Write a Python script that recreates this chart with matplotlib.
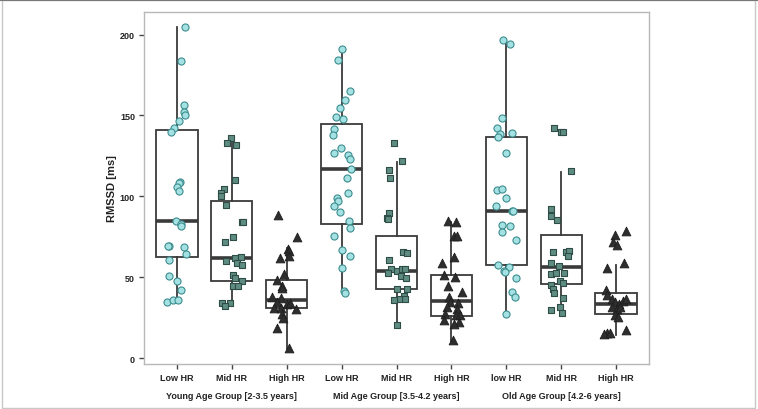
import matplotlib
matplotlib.use("Agg")
import matplotlib.pyplot as plt
from matplotlib.patches import Rectangle
from matplotlib.lines import Line2D

plt.rcParams['font.family'] = ['Liberation Sans', 'DejaVu Sans']

categories = ["Low HR", "Mid HR", "High HR", "Low HR", "Mid HR", "High HR", "low HR", "Mid HR", "High HR"]
group_labels = ["Young Age Group [2-3.5 years]", "Mid Age Group [3.5-4.2 years]", "Old Age Group [4.2-6 years]"]
yticks = [0, 50, 100, 150, 200]

# box statistics: (whislo, q1, med, q3, whishi)
box_stats = [
    (34.6, 62.5, 84.7, 141.0, 205.0),
    (32.3, 47.8, 62.0, 97.3, 136.5),
    (5.6, 30.9, 35.9, 48.0, 68.0),
    (40.3, 82.9, 116.9, 144.7, 191.0),
    (21.0, 42.4, 53.6, 75.4, 121.3),
    (10.7, 26.2, 35.5, 51.5, 84.3),
    (27.0, 57.5, 90.7, 137.0, 195.8),
    (27.2, 45.8, 56.5, 75.8, 115.2),
    (14.4, 27.2, 33.4, 40.0, 57.5),
]

# observed values per box
values = [
    [204.5, 183.5, 156.6, 152.3, 150.3, 146.8, 142.4, 140.0, 108.8, 108.0, 105.9, 103.5,
     84.7, 83.0, 81.4, 69.4, 69.0, 68.6, 64.3, 60.6, 50.7, 47.6, 41.8, 34.4, 35.9, 35.9],
    [136.2, 132.7, 132.0, 109.9, 104.5, 101.8, 100.0, 94.9, 83.9, 84.0, 74.6, 71.5,
     60.2, 61.6, 62.2, 58.7, 57.5, 51.3, 49.5, 47.6, 44.7, 44.7, 34.0, 34.0, 32.2],
    [88.6, 74.6, 67.7, 66.3, 63.0, 61.6, 51.9, 48.4, 44.7, 43.0, 37.9, 36.9, 34.4,
     33.1, 34.0, 30.3, 30.9, 31.0, 27.2, 24.5, 18.3, 6.0],
    [191.0, 184.3, 165.1, 159.3, 154.4, 148.8, 147.8, 141.6, 138.0, 129.9, 126.8, 125.7,
     123.3, 116.6, 111.6, 102.3, 98.8, 97.3, 94.3, 90.1, 84.5, 80.2, 75.2, 67.0, 62.9,
     55.9, 41.6, 40.0],
    [133.0, 121.6, 116.4, 111.4, 89.7, 86.4, 86.0, 65.3, 64.7, 60.8, 55.0, 52.6, 54.0,
     55.0, 55.0, 50.9, 49.5, 42.4, 42.4, 38.5, 36.5, 36.5, 35.9, 20.6],
    [84.5, 84.3, 75.7, 75.3, 62.2, 58.7, 51.3, 49.9, 44.7, 41.0, 37.9, 34.8, 33.8, 31.3,
     30.3, 27.2, 26.6, 26.6, 23.5, 22.0, 21.0, 11.3],
    [196.4, 193.9, 148.4, 142.0, 138.8, 139.0, 136.4, 126.5, 104.1, 104.5, 99.0, 94.3,
     90.7, 90.7, 82.5, 81.7, 77.7, 73.0, 57.7, 56.5, 54.0, 53.5, 49.5, 40.6, 37.9, 27.0],
    [142.4, 140.0, 140.0, 115.4, 92.1, 87.6, 85.5, 65.8, 65.8, 66.4, 63.3, 58.7, 56.7,
     51.9, 52.6, 52.3, 47.8, 45.3, 46.6, 42.7, 40.0, 36.9, 31.3, 30.0, 28.0],
    [78.3, 76.0, 71.5, 69.9, 58.7, 55.4, 42.2, 38.9, 36.5, 34.4, 33.4, 35.5, 36.5, 31.3,
     30.3, 31.3, 26.6, 25.4, 15.5, 14.8, 17.5, 15.5],
]

# horizontal jitter of each point (category units)
jitter = [
    [0.15, 0.07, 0.13, 0.13, 0.15, 0.03, -0.05, -0.11, 0.05, 0.04, 0.0, 0.03,
     -0.02, 0.08, 0.08, -0.15, -0.16, 0.13, 0.16, -0.14, -0.14, 0.0, 0.08, -0.18, -0.07, 0.02],
    [-0.01, -0.09, 0.08, 0.05, -0.15, -0.2, -0.19, -0.11, 0.18, 0.21, 0.02, -0.12,
     -0.11, 0.06, 0.17, 0.09, 0.18, 0.02, 0.05, 0.18, 0.03, 0.12, -0.18, -0.04, -0.12],
    [-0.15, 0.18, 0.02, 0.05, 0.04, -0.13, -0.05, -0.17, -0.09, -0.08, -0.26, -0.11, -0.17,
     0.0, 0.06, 0.16, -0.23, -0.11, -0.09, -0.06, -0.17, 0.05],
    [0.0, -0.07, 0.16, 0.07, -0.03, -0.1, 0.02, -0.14, -0.16, -0.02, -0.13, 0.12,
     0.16, 0.17, 0.09, 0.11, -0.08, -0.07, -0.13, -0.03, 0.14, 0.16, -0.13, 0.0, 0.15,
     0.0, 0.05, 0.07],
    [-0.04, 0.1, -0.13, -0.11, -0.14, -0.18, -0.16, 0.11, 0.19, -0.13, -0.1, -0.16, 0.01,
     0.1, 0.15, 0.08, 0.18, 0.01, 0.2, 0.13, 0.16, 0.05, -0.05, 0.0],
    [-0.07, 0.08, 0.05, 0.1, 0.05, -0.17, -0.14, 0.07, -0.06, 0.19, -0.04, -0.02, 0.12, -0.08,
     0.1, -0.12, 0.09, 0.15, -0.14, 0.13, 0.04, 0.03],
    [-0.06, 0.07, -0.08, -0.17, -0.11, 0.1, -0.15, 0.0, -0.17, -0.07, 0.0, -0.19,
     0.1, 0.13, -0.07, 0.06, -0.07, 0.18, -0.15, 0.05, -0.04, -0.02, 0.17, 0.1, 0.16, -0.01],
    [-0.13, 0.0, 0.03, 0.18, -0.19, -0.18, -0.07, -0.15, 0.09, 0.15, 0.12, -0.18, -0.04,
     -0.18, -0.09, 0.05, -0.02, -0.18, 0.03, -0.15, -0.13, 0.04, -0.02, -0.19, 0.01],
    [0.18, -0.02, -0.05, 0.02, 0.15, -0.17, -0.19, -0.16, -0.08, -0.02, 0.06, 0.12, 0.18, -0.08,
     0.01, 0.07, -0.02, 0.04, -0.17, -0.22, 0.19, -0.11],
]

W, H = 758, 410
fig = plt.figure(figsize=(W / 100, H / 100), dpi=100)
ax = fig.add_axes([144 / W, 1 - 365 / H, (649 - 144) / W, (365 - 13) / H])

positions = list(range(1, len(categories) + 1))
stats = []
for (lo, q1, med, q3, hi), lab in zip(box_stats, categories):
    stats.append(dict(whislo=lo, q1=q1, med=med, q3=q3, whishi=hi, fliers=[], label=lab))

edge = '#3a3a3a'
ax.bxp(stats, positions=positions, widths=0.75, showfliers=False, showcaps=False,
       patch_artist=True,
       boxprops=dict(facecolor='white', edgecolor=edge, linewidth=1.3),
       whiskerprops=dict(color=edge, linewidth=1.3),
       medianprops=dict(color=edge, linewidth=2.6),
       zorder=2)

styles = [
    dict(marker='o', facecolor='#a3e1e3', edgecolor='#3d8c8e', s=26, linewidths=0.8),
    dict(marker='s', facecolor='#5f8c82', edgecolor='#2f4d47', s=24, linewidths=0.8),
    dict(marker='^', facecolor='#2e2e2e', edgecolor='#1e1e1e', s=40, linewidths=0.6),
]
for i, (vals, jit) in enumerate(zip(values, jitter)):
    st = styles[i % 3]
    xs = [positions[i] + j for j in jit]
    ax.scatter(xs, vals, zorder=3, **st)

ax.set_xlim(0.4, 9.6)
ax.set_ylim(-3.7, 214)
ax.set_yticks(yticks)
ax.set_yticklabels([str(t) for t in yticks], fontsize=6.5, fontweight='bold', color='#222')
ax.set_xticks(positions)
ax.set_xticklabels(categories, fontsize=6.5, fontweight='bold', color='#222')
ax.tick_params(axis='both', length=3.5, width=1.0, color='#444', pad=3)
ax.tick_params(axis='x', pad=3)
for sp in ax.spines.values():
    sp.set_color('#b8b8b8')
    sp.set_linewidth(1.0)
ax.set_ylabel('RMSSD [ms]', fontsize=8, fontweight='bold', color='#222', labelpad=2)

for k, lab in enumerate(group_labels):
    xc = positions[3 * k + 1]
    ax.text(xc, -0.09, lab, transform=ax.get_xaxis_transform(), ha='center', va='center',
            fontsize=6.5, fontweight='bold', color='#222')

# figure border
fig.patches.append(Rectangle((2 / W, 1 / H), (W - 5) / W, (H - 2) / H, transform=fig.transFigure,
                             fill=False, edgecolor='#c8c8c8', linewidth=1.0))
fig.lines.append(Line2D([0, 1], [1 - 0.5 / H, 1 - 0.5 / H], transform=fig.transFigure,
                        color='#777777', linewidth=1.5))

fig.savefig('out.png', dpi=100)
